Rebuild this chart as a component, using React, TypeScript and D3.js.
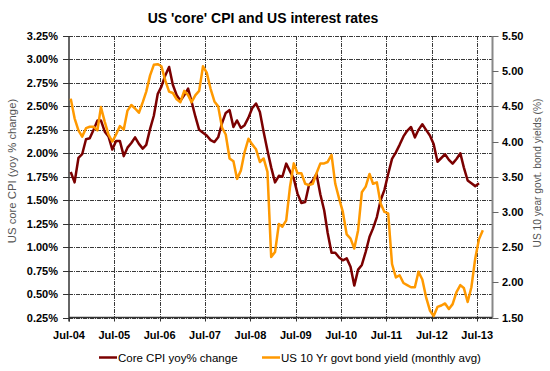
import React, { useRef, useEffect } from "react";
import * as d3 from "d3";

// monthly values, first month Jul-04
const cpiCore = [
  1.80, 1.69, 1.95, 1.99, 2.15, 2.16, 2.25, 2.35, 2.35, 2.23, 2.18, 2.04,
  2.13, 2.13, 1.97, 2.06, 2.11, 2.17, 2.10, 2.05, 2.09, 2.26, 2.40, 2.63,
  2.71, 2.83, 2.92, 2.73, 2.62, 2.56, 2.62, 2.69, 2.55, 2.39, 2.25, 2.22,
  2.19, 2.14, 2.12, 2.17, 2.32, 2.43, 2.46, 2.28, 2.35, 2.27, 2.30, 2.38,
  2.48, 2.53, 2.44, 2.23, 2.03, 1.85, 1.69, 1.76, 1.75, 1.89, 1.81, 1.73,
  1.57, 1.47, 1.48, 1.66, 1.71, 1.78, 1.56, 1.39, 1.15, 0.94, 0.94, 0.89,
  0.86, 0.88, 0.79, 0.59, 0.76, 0.81, 0.95, 1.11, 1.20, 1.32, 1.50, 1.61,
  1.78, 1.94, 2.01, 2.09, 2.18, 2.24, 2.28, 2.17, 2.25, 2.31, 2.25, 2.19,
  2.10, 1.91, 1.95, 1.99, 1.93, 1.89, 1.94, 2.00, 1.85, 1.71, 1.68, 1.65,
  1.68,
];

const bondYield = [
  4.61, 4.33, 4.16, 4.07, 4.19, 4.21, 4.21, 4.16, 4.49, 4.28, 4.10, 4.00,
  4.10, 4.22, 4.17, 4.44, 4.52, 4.47, 4.41, 4.56, 4.71, 4.94, 5.09, 5.10,
  5.07, 4.87, 4.71, 4.69, 4.60, 4.56, 4.72, 4.66, 4.56, 4.66, 4.72, 5.07,
  4.98, 4.75, 4.57, 4.50, 4.20, 4.10, 3.76, 3.72, 3.47, 3.59, 3.85, 4.04,
  3.96, 3.89, 3.71, 3.76, 3.57, 2.36, 2.43, 2.83, 2.79, 2.88, 3.35, 3.69,
  3.55, 3.55, 3.40, 3.38, 3.40, 3.55, 3.69, 3.69, 3.71, 3.81, 3.40, 3.19,
  3.00, 2.68, 2.62, 2.48, 2.74, 3.28, 3.36, 3.54, 3.40, 3.42, 3.12, 3.00,
  2.98, 2.26, 2.07, 2.10, 1.99, 1.96, 1.93, 1.93, 2.15, 2.04, 1.79, 1.60,
  1.52, 1.65, 1.67, 1.70, 1.62, 1.69, 1.86, 1.96, 1.92, 1.72, 1.93, 2.34,
  2.61, 2.74,
];

const tickYears = d3.range(2004, 2014);
const leftTicks = d3.range(0.25, 3.26, 0.25);
const rightTicks = d3.range(1.5, 5.51, 0.5);

const seriesNames = ["Core CPI yoy% change", "US 10 Yr govt bond yield (monthly avg)"];
const seriesColors = ["#7b0000", "#ff9900"];

const W = 550;
const H = 371;
const FONT = "'Liberation Sans', Arial, sans-serif";

export default function App() {
  const svgRef = useRef<SVGSVGElement | null>(null);

  useEffect(() => {
    const svg = d3.select(svgRef.current);
    svg.selectAll("*").remove();

    const left = 69;
    const right = 492.5;
    const top = 36;
    const bottom = 317.5;

    const monthDate = (i: number) => new Date(2004, 6 + i, 15);

    const x = d3
      .scaleTime()
      .domain([new Date(2004, 6, 1), new Date(2013, 10, 1)])
      .range([left, right]);
    const yL = d3.scaleLinear().domain([0.25, 3.25]).range([bottom, top]);
    const yR = d3.scaleLinear().domain([1.5, 5.5]).range([bottom, top]);

    const g = svg.append("g").attr("font-family", FONT);

    // title
    g.append("text")
      .attr("x", 263)
      .attr("y", 22.5)
      .attr("text-anchor", "middle")
      .attr("font-size", 14)
      .attr("font-weight", "bold")
      .attr("fill", "#000")
      .text("US 'core' CPI and US interest rates");

    // horizontal gridlines
    g.append("g")
      .selectAll("line")
      .data(leftTicks)
      .enter()
      .append("line")
      .attr("x1", left)
      .attr("x2", right)
      .attr("y1", (d) => Math.round(yL(d)) + 0.5)
      .attr("y2", (d) => Math.round(yL(d)) + 0.5)
      .attr("stroke", "#3a3a3a")
      .attr("stroke-width", 1)
      .attr("stroke-dasharray", "4 1 1 1");

    // vertical gridlines
    const julDates = tickYears.map((yr) => new Date(yr, 6, 1));
    g.append("g")
      .selectAll("line")
      .data(julDates.slice(1))
      .enter()
      .append("line")
      .attr("x1", (d) => Math.round(x(d)) + 0.5)
      .attr("x2", (d) => Math.round(x(d)) + 0.5)
      .attr("y1", top)
      .attr("y2", bottom)
      .attr("stroke", "#3a3a3a")
      .attr("stroke-width", 1)
      .attr("stroke-dasharray", "4 1 1 1");

    // left axis
    const axL = g.append("g");
    axL.append("line")
      .attr("x1", left).attr("x2", left)
      .attr("y1", top).attr("y2", bottom + 4)
      .attr("stroke", "#333").attr("stroke-width", 1.5);
    axL.selectAll("line.t")
      .data(leftTicks)
      .enter()
      .append("line")
      .attr("class", "t")
      .attr("x1", left - 6).attr("x2", left)
      .attr("y1", (d) => Math.round(yL(d)) + 0.5)
      .attr("y2", (d) => Math.round(yL(d)) + 0.5)
      .attr("stroke", "#333");
    axL.selectAll("text")
      .data(leftTicks)
      .enter()
      .append("text")
      .attr("x", 58)
      .attr("y", (d) => yL(d) + 4)
      .attr("text-anchor", "end")
      .attr("font-size", 11)
      .attr("font-weight", "bold")
      .text((d) => d3.format(".2f")(d) + "%");

    // right axis
    const axR = g.append("g");
    axR.append("line")
      .attr("x1", right).attr("x2", right)
      .attr("y1", top).attr("y2", bottom)
      .attr("stroke", "#888").attr("stroke-width", 2);
    axR.selectAll("line.t")
      .data(rightTicks)
      .enter()
      .append("line")
      .attr("class", "t")
      .attr("x1", right).attr("x2", right + 6)
      .attr("y1", (d) => Math.round(yR(d)) + 0.5)
      .attr("y2", (d) => Math.round(yR(d)) + 0.5)
      .attr("stroke", "#666");
    axR.selectAll("text")
      .data(rightTicks)
      .enter()
      .append("text")
      .attr("x", 502)
      .attr("y", (d) => yR(d) + 4)
      .attr("font-size", 11)
      .attr("font-weight", "bold")
      .text((d) => d3.format(".2f")(d));

    // bottom axis
    const axB = g.append("g");
    axB.append("line")
      .attr("x1", left).attr("x2", right)
      .attr("y1", bottom).attr("y2", bottom)
      .attr("stroke", "#333").attr("stroke-width", 1.5);
    axB.selectAll("line.t")
      .data(julDates)
      .enter()
      .append("line")
      .attr("class", "t")
      .attr("x1", (d) => Math.round(x(d)) + 0.5)
      .attr("x2", (d) => Math.round(x(d)) + 0.5)
      .attr("y1", bottom)
      .attr("y2", bottom + 4)
      .attr("stroke", "#333");
    axB.selectAll("text")
      .data(julDates)
      .enter()
      .append("text")
      .attr("x", (d) => x(d))
      .attr("y", 339)
      .attr("text-anchor", "middle")
      .attr("font-size", 11)
      .attr("font-weight", "bold")
      .text((d) => d3.timeFormat("%b-%y")(d));

    // axis titles
    g.append("text")
      .attr("transform", "translate(16,171) rotate(-90)")
      .attr("text-anchor", "middle")
      .attr("font-size", 11.3)
      .attr("fill", "#555")
      .text("US core CPI (yoy % change)");
    g.append("text")
      .attr("transform", "translate(541,173) rotate(-90)")
      .attr("text-anchor", "middle")
      .attr("font-size", 10.2)
      .attr("fill", "#555")
      .text("US 10 year govt. bond yields (%)");

    // lines
    const lineL = d3
      .line<number>()
      .x((_, i) => x(monthDate(i)))
      .y((d) => yL(d));
    const lineR = d3
      .line<number>()
      .x((_, i) => x(monthDate(i)))
      .y((d) => yR(d));

    g.append("path")
      .attr("d", lineL(cpiCore))
      .attr("fill", "none")
      .attr("stroke", seriesColors[0])
      .attr("stroke-width", 2.5)
      .attr("stroke-linejoin", "round");
    g.append("path")
      .attr("d", lineR(bondYield))
      .attr("fill", "none")
      .attr("stroke", seriesColors[1])
      .attr("stroke-width", 2.5)
      .attr("stroke-linejoin", "round");

    // legend
    const legendX = [99, 262];
    const leg = g.append("g");
    seriesNames.forEach((name, i) => {
      leg.append("line")
        .attr("x1", legendX[i]).attr("x2", legendX[i] + 18)
        .attr("y1", 357.5).attr("y2", 357.5)
        .attr("stroke", seriesColors[i])
        .attr("stroke-width", 2.5);
      leg.append("text")
        .attr("x", legendX[i] + 19)
        .attr("y", 361.5)
        .attr("font-size", 11.5)
        .attr("fill", "#000")
        .text(name);
    });
  }, []);

  return (
    <svg
      ref={svgRef}
      width={W}
      height={H}
      style={{ position: "absolute", left: 0, top: 0, display: "block", background: "#fff" }}
    ></svg>
  );
}
